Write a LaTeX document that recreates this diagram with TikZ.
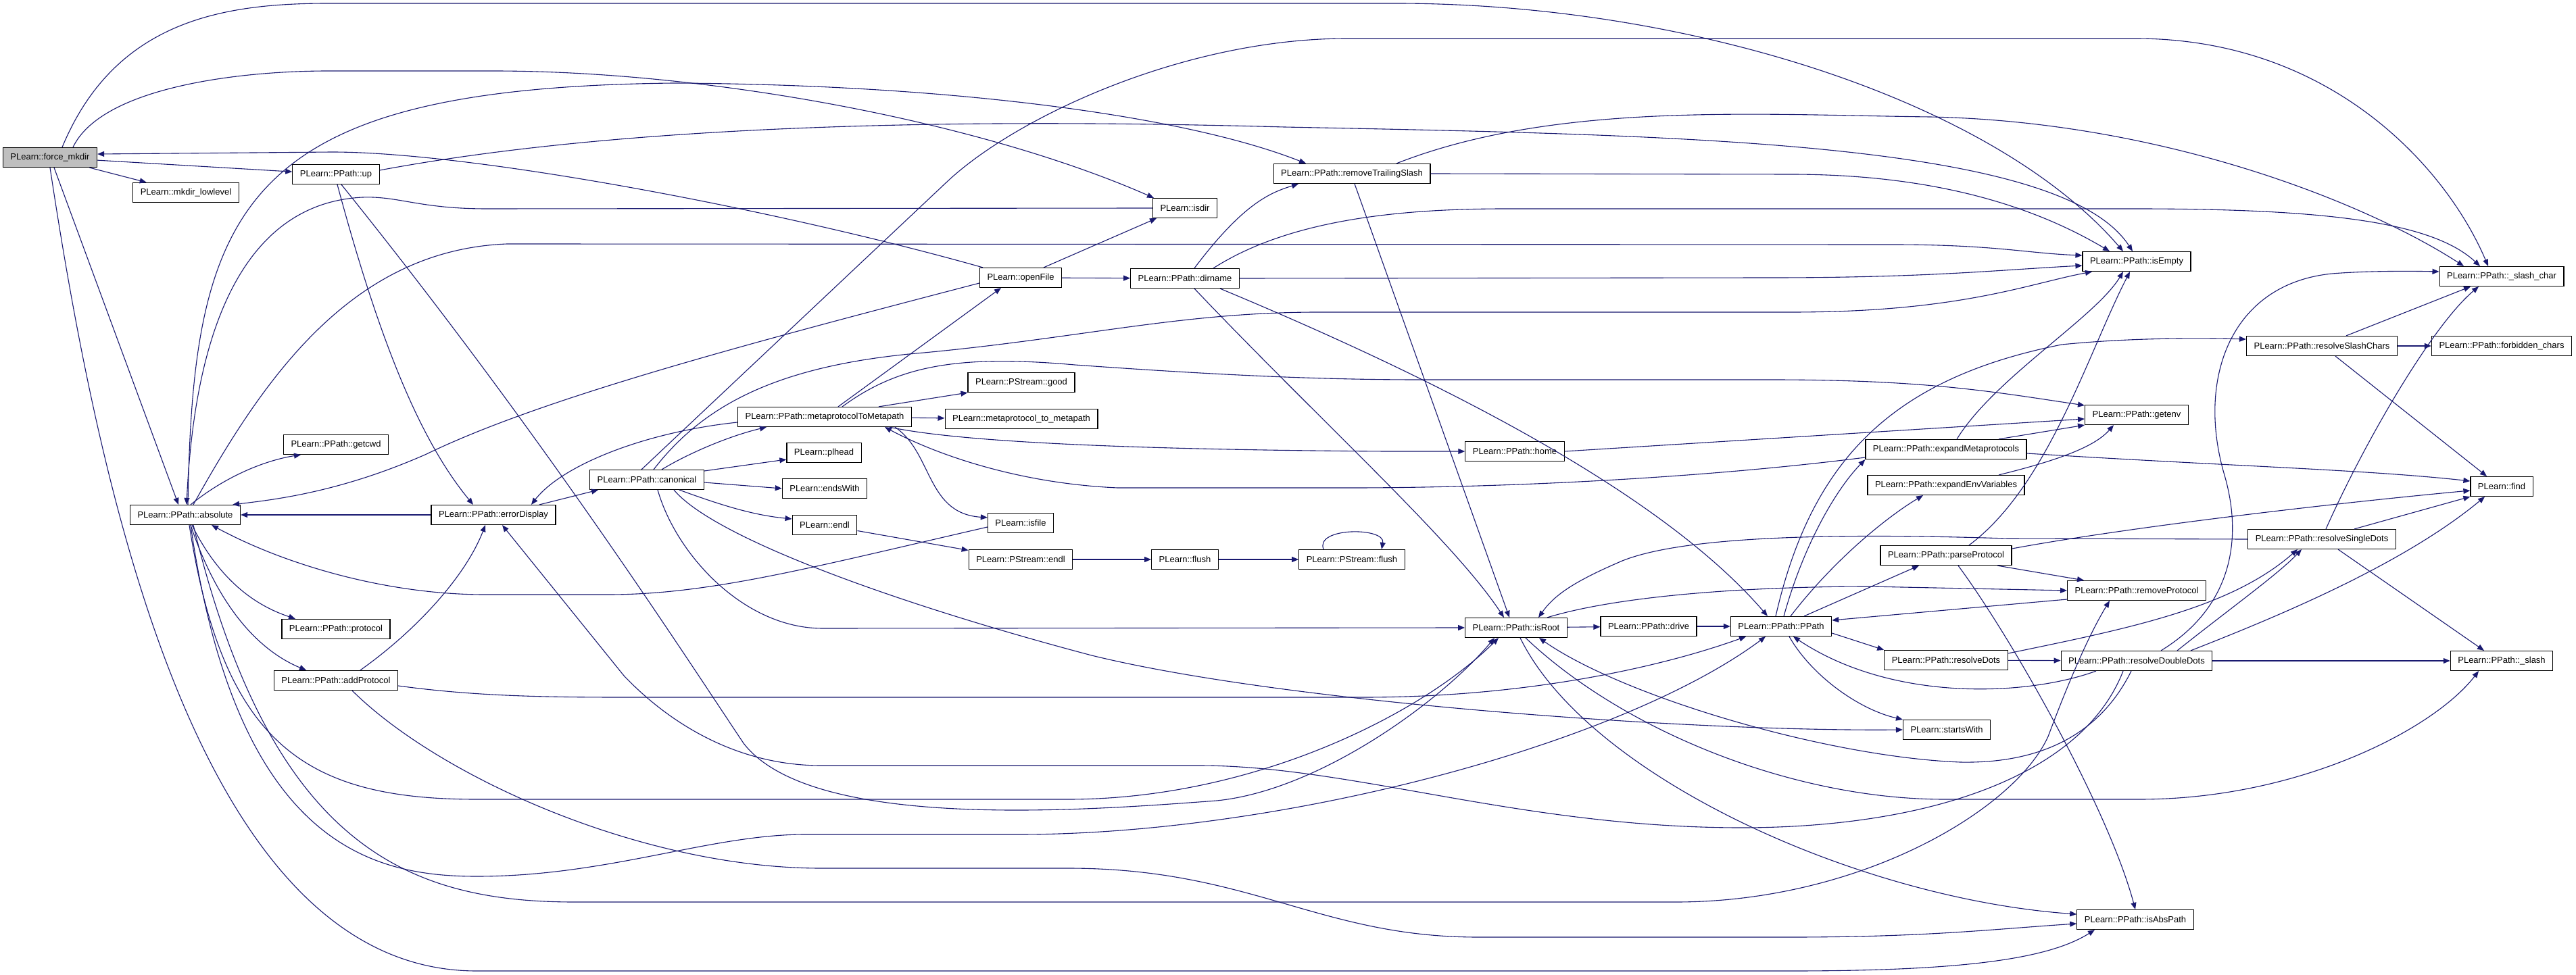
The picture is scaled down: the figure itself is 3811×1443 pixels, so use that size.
\documentclass[tikz,border=0pt]{standalone}
\usepackage{fontspec}
\setmainfont{Liberation Sans}
\usetikzlibrary{arrows.meta}
\definecolor{eblue}{HTML}{191970}
\definecolor{rootgray}{HTML}{BFBFBF}
\begin{document}
\begin{tikzpicture}[x=0.5pt,y=-0.5pt,
  box/.style={draw=black,line width=0.6pt,fill=white,inner xsep=5.5pt,inner ysep=0pt,minimum height=14.5pt,font=\fontsize{6.5}{7.5}\selectfont},
  root/.style={box,fill=rootgray},
  e/.style={draw=eblue,line width=0.55pt,-{Triangle[length=5pt,width=4pt]}}]
\useasboundingbox[fill=white] (0,0) rectangle (3811,1443);
% nodes
\node[root] (fm) at (74,233) {PLearn::force\_mkdir};
\node[box] (ml) at (275,285) {PLearn::mkdir\_lowlevel};
\node[box] (up) at (497,258) {PLearn::PPath::up};
\node[box] (abs) at (274,762) {PLearn::PPath::absolute};
\node[box] (gcwd) at (497,658) {PLearn::PPath::getcwd};
\node[box] (err) at (730,762) {PLearn::PPath::errorDisplay};
\node[box] (prot) at (497,931) {PLearn::PPath::protocol};
\node[box] (addp) at (497,1007) {PLearn::PPath::addProtocol};
\node[box] (can) at (957,710) {PLearn::PPath::canonical};
\node[box] (m2m) at (1220,617) {PLearn::PPath::metaprotocolToMetapath};
\node[box] (plh) at (1219,670) {PLearn::plhead};
\node[box] (ew) at (1220,723) {PLearn::endsWith};
\node[box] (endl) at (1220,777) {PLearn::endl};
\node[box] (of) at (1510,411) {PLearn::openFile};
\node[box] (good) at (1511,566) {PLearn::PStream::good};
\node[box] (mtm) at (1511,620) {PLearn::metaprotocol\_to\_metapath};
\node[box] (isf) at (1510,774) {PLearn::isfile};
\node[box] (psendl) at (1510,828) {PLearn::PStream::endl};
\node[box] (isdir) at (1753,308) {PLearn::isdir};
\node[box] (dirn) at (1753,412) {PLearn::PPath::dirname};
\node[box] (flush) at (1753,828) {PLearn::flush};
\node[box] (rts) at (2000,257) {PLearn::PPath::removeTrailingSlash};
\node[box] (psf) at (2000,828) {PLearn::PStream::flush};
\node[box] (home) at (2241,668) {PLearn::PPath::home};
\node[box] (isroot) at (2243,929) {PLearn::PPath::isRoot};
\node[box] (drive) at (2439,927) {PLearn::PPath::drive};
\node[box] (ppath) at (2635,927) {PLearn::PPath::PPath};
\node[box] (expm) at (2879,665) {PLearn::PPath::expandMetaprotocols};
\node[box] (expe) at (2879,718) {PLearn::PPath::expandEnvVariables};
\node[box] (parse) at (2879,822) {PLearn::PPath::parseProtocol};
\node[box] (rdots) at (2879,977) {PLearn::PPath::resolveDots};
\node[box] (sw) at (2880,1080) {PLearn::startsWith};
\node[box] (isempty) at (3161,387) {PLearn::PPath::isEmpty};
\node[box] (getenv) at (3161,614) {PLearn::PPath::getenv};
\node[box] (rmp) at (3161,874) {PLearn::PPath::removeProtocol};
\node[box] (rdd) at (3161,978) {PLearn::PPath::resolveDoubleDots};
\node[box] (isabs) at (3159,1361) {PLearn::PPath::isAbsPath};
\node[box] (rsc) at (3435,512) {PLearn::PPath::resolveSlashChars};
\node[box] (rsd) at (3435,798) {PLearn::PPath::resolveSingleDots};
\node[box] (slc) at (3701,409) {PLearn::PPath::\_slash\_char};
\node[box] (forb) at (3701,512) {PLearn::PPath::forbidden\_chars};
\node[box] (find) at (3701,720) {PLearn::find};
\node[box] (slash) at (3701,978) {PLearn::PPath::\_slash};
% edges from force_mkdir
\draw[e] (fm) -- (ml);
\draw[e] (fm) -- (up);
\draw[e] ([xshift=3pt]fm.south) -- ([xshift=-5pt]abs.north);
\draw[e] ([xshift=17pt]fm.north) .. controls (150,130) and (350,105) .. (486,105) -- (729,105) .. controls (1050,105) and (1450,180) .. ([xshift=-23pt]isdir.north);
\draw[e] ([xshift=9pt]fm.north) .. controls (170,30) and (330,5) .. (486,5) -- (2065,5) .. controls (2500,5) and (2950,150) .. ([xshift=-10pt]isempty.north);
\draw[e] (fm.south) .. controls (150,750) and (300,1437) .. (705,1437) -- (2649,1437) .. controls (2900,1437) and (3030,1420) .. ([xshift=-30pt]isabs.south);
\draw[e] ([xshift=-28pt]of.north) .. controls (1150,310) and (700,225) .. (491,225) -- ([yshift=2.5pt]fm.east);
% up
\draw[e] ([yshift=3pt]up.east) .. controls (1000,170) and (1600,180) .. (1900,188) .. controls (2500,200) and (3050,210) .. ([xshift=-3pt]isempty.north);
\draw[e] ([xshift=1pt]up.south) .. controls (560,500) and (620,650) .. ([xshift=-15pt]err.north);
\draw[e] ([xshift=4pt]up.south) .. controls (800,640) and (1000,950) .. (1100,1100) .. controls (1200,1230) and (1600,1200) .. (1800,1185) .. controls (1950,1170) and (2130,1040) .. ([xshift=-16pt]isroot.south);
% absolute
\draw[e] ([xshift=4pt]abs.north) .. controls (340,700) and (400,680) .. ([xshift=-26pt]gcwd.south);
\draw[e] ([xshift=5pt]abs.south) .. controls (330,870) and (390,900) .. ([xshift=-30pt]prot.north);
\draw[e] ([xshift=4pt]abs.south) .. controls (330,920) and (400,970) .. ([xshift=-22pt]addp.north);
\draw[e] (err) -- (abs);
\draw[e] ([xshift=6pt]abs.north) .. controls (390,560) and (520,370) .. (750,361) -- (2800,362) .. controls (2950,362) and (3000,375) .. ([yshift=4.5pt]isempty.west);
\draw[e] ([xshift=2pt]abs.north) .. controls (285,300) and (360,130) .. (996,123) .. controls (1400,125) and (1750,170) .. ([xshift=-34pt]rts.north);
\draw[e] ([xshift=3pt]abs.south) .. controls (330,1100) and (450,1183) .. (705,1183) -- (1580,1183) .. controls (1850,1183) and (2100,1060) .. ([xshift=-13pt]isroot.south);
\draw[e] ([xshift=4pt]abs.south) .. controls (350,1250) and (550,1297) .. (705,1297) .. controls (900,1297) and (1050,1235) .. (1191,1235) -- (1507,1235) .. controls (1900,1235) and (2400,1100) .. ([xshift=-11.5pt]ppath.south);
\draw[e] ([xshift=6pt]abs.south) .. controls (400,1250) and (600,1335) .. (850,1335) -- (2479,1335) .. controls (2750,1335) and (2980,1200) .. (3030,1090) .. controls (3060,1010) and (3090,940) .. ([xshift=-20pt]rmp.south);
\draw[e] (isdir.west) -- (720,309) .. controls (620,309) and (590,290) .. (536,292) .. controls (380,300) and (290,450) .. ([xshift=1pt]abs.north);
\draw[e] ([yshift=-4pt]of.west) .. controls (1100,510) and (800,590) .. (631,672) .. controls (500,730) and (400,740) .. ([xshift=-6pt]abs.north east);
\draw[e] ([yshift=-3pt]isf.west) .. controls (1200,840) and (1050,880) .. (900,880) -- (717,880) .. controls (580,880) and (430,840) .. ([xshift=19.5pt]abs.south);
% openFile
\draw[e] ([xshift=17pt]of.north) -- ([xshift=-21pt]isdir.south);
\draw[e] (of) -- (dirn);
% errorDisplay / canonical
\draw[e] ([xshift=34pt]err.north) -- ([xshift=-36pt]can.south);
\draw[e] ([yshift=-4pt]m2m.west) .. controls (950,640) and (830,690) .. ([xshift=28pt]err.north);
\draw[e] ([xshift=11pt]can.north) .. controls (1020,670) and (1080,645) .. ([xshift=-43pt]m2m.south);
\draw[e] ([yshift=6.5pt]can.east) -- ([yshift=-5pt]plh.west);
\draw[e] ([yshift=-2pt]can.east) -- (ew.west);
\draw[e] ([xshift=24pt]can.south) .. controls (1060,745) and (1110,762) .. ([yshift=4.5pt]endl.west);
\draw[e] ([xshift=5pt]can.north) .. controls (1040,600) and (1150,540) .. (1367,522) .. controls (1600,500) and (1750,462) .. (1950,462) -- (2650,462) .. controls (2900,462) and (3000,420) .. ([xshift=-33pt]isempty.south);
\draw[e] ([xshift=-4pt]can.north) -- (1400,270) .. controls (1500,175) and (1750,57) .. (1993,57) -- (3159,57) .. controls (3450,57) and (3620,250) .. ([xshift=-10pt]slc.north);
\draw[e] ([xshift=8pt]can.south) .. controls (1000,820) and (1100,930) .. (1217,930) -- (isroot.west);
\draw[e] ([xshift=20pt]can.south) .. controls (1060,800) and (1350,900) .. (1615,970) .. controls (1900,1040) and (2500,1083) .. (sw.west);
% metaprotocolToMetapath
\draw[e] ([xshift=10pt]m2m.north) -- ([xshift=-14.5pt]of.south);
\draw[e] ([xshift=40pt]m2m.north) -- (good.south west);
\draw[e] (m2m) -- (mtm);
\draw[e] ([xshift=52pt]m2m.south) .. controls (1380,670) and (1370,760) .. ([yshift=4pt]isf.west);
\draw[e] ([xshift=13pt]m2m.north) .. controls (1330,540) and (1420,525) .. (1590,540) .. controls (1800,555) and (1950,562) .. (2100,562) -- (2620,562) .. controls (2850,562) and (2950,580) .. ([yshift=7pt]getenv.west);
\draw[e] ([yshift=-6pt]expm.west) .. controls (2500,710) and (2200,722) .. (2000,722) -- (1653,722) .. controls (1500,715) and (1380,670) .. ([xshift=44.5pt]m2m.south);
\draw[e] ([xshift=48pt]m2m.south) .. controls (1400,650) and (1600,665) .. (2050,668) -- (home.west);
% home, expand
\draw[e] (home.east) -- ([yshift=-3pt]getenv.west);
\draw[e] ([xshift=39pt]expm.north) -- (getenv.south west);
\draw[e] ([xshift=39pt]expe.north) .. controls (3050,680) and (3100,660) .. ([xshift=-17pt]getenv.south);
\draw[e] ([yshift=-3pt]expm.east) .. controls (3300,690) and (3500,695) .. ([yshift=4pt]find.west);
\draw[e] ([xshift=8pt]expm.north) .. controls (2950,560) and (3100,470) .. ([xshift=-10pt]isempty.south);
\draw[e] ([xshift=17pt]parse.north) .. controls (3030,720) and (3090,520) .. ([xshift=-5pt]isempty.south);
% PPath
\draw[e] ([xshift=-4pt]ppath.north) .. controls (2680,680) and (2800,560) .. (3050,510) .. controls (3150,500) and (3250,500) .. ([yshift=5pt]rsc.west);
\draw[e] ([xshift=2pt]ppath.north) .. controls (2670,800) and (2720,720) .. (expm.south west);
\draw[e] ([xshift=7pt]ppath.north) .. controls (2720,820) and (2800,760) .. ([xshift=-17pt]expe.south);
\draw[e] ([xshift=17pt]ppath.north) -- ([xshift=-20pt]parse.south);
\draw[e] ([yshift=-5pt]ppath.east) -- (rdots.north west);
\draw[e] ([xshift=6pt]ppath.south) .. controls (2680,1000) and (2750,1050) .. (sw.north west);
\draw[e] ([yshift=-6.5pt]rmp.west) -- ([yshift=4.5pt]ppath.east);
% parseProtocol
\draw[e] ([xshift=38pt]parse.south) -- ([xshift=-39pt]rmp.north);
\draw[e] ([yshift=5pt]parse.east) .. controls (3150,780) and (3450,745) .. ([yshift=-3pt]find.west);
\draw[e] ([xshift=9pt]parse.south) .. controls (2980,950) and (3120,1200) .. (isabs.north);
% isRoot
\draw[e] (isroot) -- (drive);
\draw[e] (drive) -- (ppath);
\draw[e] ([xshift=23pt]isroot.north) .. controls (2400,880) and (2600,868) .. (2765,868) -- (rmp.west);
\draw[e] (rsd.west) -- (2970,797) .. controls (2750,790) and (2500,790) .. (2400,830) .. controls (2330,860) and (2300,880) .. ([xshift=16.5pt]isroot.north);
\draw[e] ([xshift=2pt]rts.south) -- ([xshift=-5pt]isroot.north);
\draw[e] ([xshift=3pt]isroot.south) .. controls (2350,1150) and (2750,1330) .. ([yshift=4pt]isabs.west);
\draw[e] ([xshift=7pt]isroot.south) .. controls (2400,1080) and (2650,1183) .. (2877,1183) -- (3165,1183) .. controls (3400,1183) and (3600,1080) .. ([xshift=-17pt]slash.south);
% dirname
\draw[e] ([xshift=7pt]dirn.south) .. controls (1950,620) and (2150,800) .. ([xshift=-9pt]isroot.north);
\draw[e] ([xshift=26pt]dirn.south) .. controls (2100,550) and (2450,720) .. ([xshift=-10pt]ppath.north);
\draw[e] ([xshift=7pt]dirn.north) .. controls (1840,300) and (1880,285) .. ([xshift=-39.5pt]rts.south);
\draw[e] (dirn.east) -- (2620,411) .. controls (2850,411) and (2950,400) .. ([yshift=-3pt]isempty.west);
\draw[e] ([xshift=21pt]dirn.north) .. controls (1900,330) and (2050,309) .. (2227,309) -- (3159,309) .. controls (3450,309) and (3600,330) .. ([xshift=-16pt]slc.north);
% removeTrailingSlash
\draw[e] (rts.east) -- (2649,258) .. controls (2850,258) and (3000,300) .. ([xshift=-20pt]isempty.north);
\draw[e] ([xshift=33pt]rts.north) .. controls (2300,150) and (2600,170) .. (2855,173) .. controls (3200,180) and (3500,300) .. ([xshift=-28pt]slc.north);
% resolve*
\draw[e] ([xshift=18pt]rsc.north) -- ([xshift=-23pt]slc.south);
\draw[e] (rsc) -- (forb);
\draw[e] ([xshift=10pt]rsc.south) -- ([xshift=-11pt]find.north);
\draw[e] ([xshift=3pt]rsd.north) .. controls (3500,650) and (3600,480) .. ([xshift=-17pt]slc.south);
\draw[e] ([xshift=24pt]rsd.north) -- (find.south west);
\draw[e] ([xshift=12pt]rsd.south) -- ([xshift=-13pt]slash.north);
\draw[e] ([xshift=30pt]rdd.north) .. controls (3300,900) and (3370,850) .. ([xshift=-15pt]rsd.south);
\draw[e] ([yshift=5pt]rdots.east) .. controls (3150,930) and (3300,900) .. ([xshift=-18pt]rsd.south);
\draw[e] (rdots) -- (rdd);
\draw[e] (rdd) -- (slash);
\draw[e] ([xshift=18pt]rdd.north) .. controls (3300,900) and (3320,800) .. (3290,700) .. controls (3250,560) and (3300,420) .. (3450,405) .. controls (3500,401) and (3560,401) .. ([yshift=3.5pt]slc.west);
\draw[e] ([xshift=40pt]rdd.north) .. controls (3350,920) and (3550,840) .. ([xshift=-12.5pt]find.south);
\draw[e] ([xshift=-4pt]rdd.south) .. controls (3100,1100) and (3000,1130) .. (2900,1128) .. controls (2700,1120) and (2400,1030) .. ([xshift=17pt]isroot.south);
\draw[e] ([xshift=-30pt]rdd.south) .. controls (3000,1030) and (2800,1040) .. ([xshift=9pt]ppath.south);
\draw[e] ([xshift=-10pt]rdd.south) .. controls (3080,1150) and (2850,1225) .. (2576,1225) .. controls (2250,1225) and (2000,1133) .. (1774,1133) -- (1215,1133) .. controls (1080,1133) and (980,1060) .. (923,1000) -- ([xshift=6.5pt]err.south);
% stream chain
\draw[e] (endl) -- (psendl);
\draw[e] (psendl) -- (flush);
\draw[e] (flush) -- (psf);
\draw[e] ([xshift=-21pt]psf.north) .. controls (1945,780) and (2050,780) .. ([xshift=22pt]psf.north);
% addProtocol
\draw[e] ([xshift=18pt]addp.north) .. controls (620,930) and (690,850) .. ([xshift=-6pt]err.south);
\draw[e] ([yshift=-4pt]addp.east) .. controls (700,1030) and (800,1032) .. (923,1032) -- (2017,1032) .. controls (2250,1032) and (2450,990) .. ([xshift=-26pt]ppath.south);
\draw[e] ([xshift=12pt]addp.south) .. controls (650,1150) and (950,1285) .. (1215,1285) -- (1580,1285) .. controls (1850,1285) and (1950,1387) .. (2187,1387) -- (2649,1387) .. controls (2850,1387) and (2950,1375) .. ([yshift=-3pt]isabs.west);
\end{tikzpicture}
\end{document}
